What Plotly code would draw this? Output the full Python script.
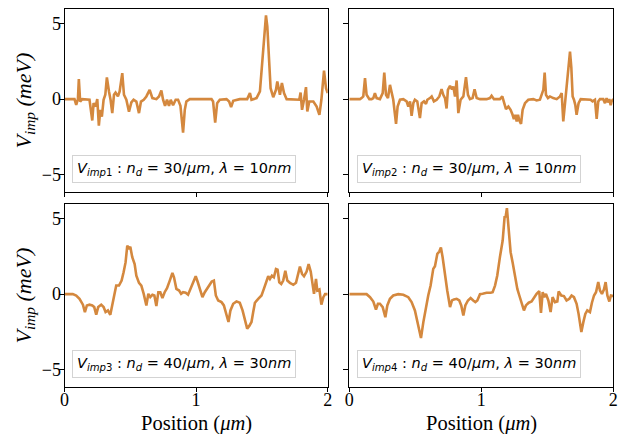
import plotly.graph_objects as go

# ---------------- data ----------------
pos1 = [0, 0.076, 0.089, 0.102, 0.109, 0.119, 0.135, 0.190, 0.211, 0.221, 0.236, 0.249, 0.261, 0.272, 0.284,
        0.297, 0.310, 0.322, 0.338, 0.350, 0.363, 0.376, 0.388, 0.406, 0.419, 0.439, 0.452, 0.470, 0.490,
        0.508, 0.525, 0.546, 0.566, 0.581, 0.602, 0.622, 0.647, 0.668, 0.698, 0.718, 0.736, 0.749, 0.764,
        0.779, 0.794, 0.807, 0.825, 0.845, 0.863, 0.881, 0.901, 0.914, 0.926, 0.952, 1.117, 1.129, 1.145,
        1.160, 1.180, 1.231, 1.251, 1.266, 1.282, 1.332, 1.388, 1.409, 1.421, 1.459, 1.485, 1.503, 1.518,
        1.531, 1.541, 1.551, 1.566, 1.586, 1.607, 1.617, 1.627, 1.637, 1.652, 1.668, 1.688, 1.764, 1.784,
        1.794, 1.805, 1.820, 1.835, 1.845, 1.860, 1.891, 1.916, 1.937, 1.952, 1.972, 1.987, 2.0]
vimp1 = [0, 0, -0.38, 0, 1.33, -0.16, 0, -0.04, -1.42, -0.27, -0.49, 0, -1.76, -0.71, -1.16,
         -0.04, 0.29, 1.44, 0.51, -0.04, -0.93, 0.29, 0.44, 0.18, 0.51, 1.73, 0.29, -0.04, -0.84,
         -0.22, -0.04, -0.16, -0.93, -0.16, -0.04, 0.18, 0.62, 0.07, 0, 0.18, 0.58, -0.04, -0.44,
         -0.04, -0.44, -0.04, -0.4, -0.04, -0.04, -0.44, -2.22, -0.71, -0.16, 0, 0, -0.16, -1.56,
         -0.27, -0.04, 0, -0.16, -0.53, -0.11, 0, 0, 0.4, -0.04, 0.07, 0.51, 2.51, 3.62,
         5.56, 4.84, 3.16, 0.73, 0.13, 0.62, 1.18, 0.62, 0.29, 1.07, 0.4, 0, 0, -0.04,
         0.44, -0.71, -0.04, 0.8, -0.82, -0.16, -0.16, -0.49, -1.04, -0.04, 1.89, 0.73, 0.4]

pos2 = [0, 0.081, 0.093, 0.106, 0.119, 0.131, 0.152, 0.169, 0.182, 0.194, 0.207, 0.232, 0.253, 0.265,
        0.278, 0.293, 0.308, 0.321, 0.333, 0.354, 0.366, 0.384, 0.409, 0.434, 0.447, 0.460, 0.472, 0.485,
        0.497, 0.515, 0.535, 0.548, 0.566, 0.581, 0.591, 0.611, 0.624, 0.641, 0.662, 0.682, 0.699, 0.712,
        0.725, 0.737, 0.747, 0.763, 0.778, 0.788, 0.801, 0.813, 0.826, 0.843, 0.864, 0.884, 0.899, 0.914,
        0.934, 0.949, 0.965, 0.990, 1.040, 1.066, 1.078, 1.096, 1.141, 1.159, 1.172, 1.187, 1.205, 1.222,
        1.237, 1.247, 1.258, 1.268, 1.278, 1.288, 1.301, 1.313, 1.331, 1.356, 1.394, 1.419, 1.444, 1.457,
        1.470, 1.480, 1.490, 1.505, 1.520, 1.545, 1.571, 1.596, 1.609, 1.621, 1.636, 1.652, 1.662, 1.672,
        1.682, 1.692, 1.702, 1.712, 1.722, 1.737, 1.753, 1.785, 1.811, 1.828, 1.843, 1.861, 1.874, 1.886,
        1.899, 1.924, 1.937, 1.949, 1.960, 1.970, 1.980, 1.987, 2.0]
vimp2 = [0, 0, 0.07, 0.18, 1.39, 0.29, 0, 0, 0.07, 0.4, 0.07, 0, 0.4, 1.77,
         0.29, 0.07, 0.95, 0.29, -0.04, -1.64, -0.49, -0.04, 0, -0.15, -0.49, -0.15, -1.11, -0.27,
         -0.04, -0.15, -1.26, -0.27, -0.15, -0.31, -0.04, 0.07, 0.18, -0.15, -0.04, 0.18, 0.66, 0.29,
         0.07, -0.62, 0.62, 0.88, 0.66, 0.84, 0.18, 1.24, -0.93, -0.04, 0.18, 1.46, 0.29, 0,
         0.07, 0.66, 0.07, 0, 0, 0.07, 0.22, 0, 0, 0.18, -0.27, -0.66, -0.49, -0.71,
         -1.04, -1.33, -1.04, -1.48, -1.04, -1.42, -1.64, -0.71, -0.27, -0.04, 0, -0.09, -0.04, 0.29,
         0.62, 1.77, 0.29, 0.07, 0.18, 0.07, 0, 0.18, 0.4, -1.48, -0.04, 1.06, 2.28, 3.16,
         2.12, 0.18, -0.04, -0.38, -1.04, -0.27, 0, 0, -0.04, -0.04, -0.15, -0.04, -1.31, -0.15,
         0, 0, -0.27, 0.07, -0.22, 0, -0.4, -0.15, 0]

pos3 = [0, 0.063, 0.089, 0.114, 0.140, 0.155, 0.170, 0.190, 0.211, 0.226, 0.241, 0.256, 0.279, 0.297,
        0.312, 0.330, 0.348, 0.363, 0.381, 0.393, 0.414, 0.434, 0.449, 0.464, 0.477, 0.490, 0.500, 0.515,
        0.533, 0.546, 0.566, 0.584, 0.602, 0.622, 0.637, 0.652, 0.668, 0.683, 0.698, 0.713, 0.728, 0.744,
        0.761, 0.779, 0.800, 0.820, 0.832, 0.850, 0.871, 0.886, 0.901, 0.921, 0.939, 0.957, 0.977, 0.997,
        1.013, 1.028, 1.048, 1.066, 1.084, 1.104, 1.119, 1.135, 1.150, 1.168, 1.193, 1.211, 1.231, 1.246,
        1.261, 1.282, 1.307, 1.332, 1.353, 1.371, 1.388, 1.404, 1.421, 1.434, 1.447, 1.472, 1.497, 1.515,
        1.530, 1.548, 1.561, 1.576, 1.591, 1.607, 1.619, 1.632, 1.647, 1.662, 1.678, 1.693, 1.713, 1.739,
        1.759, 1.774, 1.789, 1.805, 1.820, 1.840, 1.855, 1.871, 1.886, 1.896, 1.911, 1.921, 1.937, 1.952,
        1.967, 1.980, 2.0]
vimp3 = [0, 0, -0.09, -0.31, -0.7, -1.19, -0.75, -0.7, -0.75, -0.86, -1.37, -0.86, -0.7, -0.86,
         -1.19, -1.08, -1.37, -0.75, 0.13, 0.57, 0.57, 0.9, 1.45, 2.11, 3.22, 3.0, 3.15, 2.45,
         2.0, 1.23, 0.75, 0.57, 0.02, -0.75, 0.02, -0.2, -0.04, -0.09, -0.79, 0.13, 0.13, -0.26,
         0.13, 0.4, 0.9, 1.41, 1.12, 0.35, 0.24, 0.02, 0.13, 0.09, -0.04, 0.35, 0.68, 1.19,
         0.79, 0.35, -0.2, 0.13, 0.35, 0.62, 0.84, 0.9, -0.09, -0.42, -0.53, -0.75, -1.37, -1.85,
         -1.08, -0.64, -0.48, -0.57, -1.08, -1.67, -2.29, -2.11, -1.85, -1.19, -0.57, -0.31, -0.09, 0.35,
         0.75, 1.19, 1.01, 1.23, 1.12, 1.67, 1.63, 0.79, 0.68, 0.9, 1.56, 0.9, 0.75, 0.62,
         0.75, 1.23, 1.83, 1.34, 1.19, 1.5, 2.0, 1.5, 0.68, 0.02, 1.01, 0.24, 0.31, -0.7,
         -0.2, 0, 0]

pos4 = [0, 0.131, 0.157, 0.182, 0.202, 0.217, 0.232, 0.253, 0.273, 0.288, 0.308, 0.333, 0.371, 0.409,
        0.447, 0.472, 0.497, 0.523, 0.543, 0.561, 0.581, 0.598, 0.616, 0.636, 0.649, 0.667, 0.682, 0.694,
        0.707, 0.725, 0.742, 0.763, 0.778, 0.793, 0.813, 0.833, 0.848, 0.864, 0.879, 0.899, 0.919, 0.939,
        0.955, 0.970, 0.990, 1.010, 1.040, 1.071, 1.086, 1.104, 1.121, 1.141, 1.162, 1.177, 1.184, 1.194,
        1.207, 1.222, 1.237, 1.255, 1.273, 1.288, 1.306, 1.323, 1.338, 1.359, 1.381, 1.399, 1.419, 1.439,
        1.452, 1.465, 1.477, 1.490, 1.508, 1.525, 1.540, 1.558, 1.576, 1.586, 1.606, 1.626, 1.646, 1.667,
        1.684, 1.702, 1.722, 1.737, 1.758, 1.773, 1.788, 1.803, 1.823, 1.838, 1.854, 1.869, 1.886, 1.899,
        1.914, 1.929, 1.942, 1.955, 1.970, 1.982, 2.0]
vimp4 = [0, 0, -0.2, -0.49, -1.02, -0.64, -0.64, -0.86, -1.53, -0.75, -0.31, -0.09, 0, -0.04,
         -0.2, -0.53, -1.08, -2.08, -2.92, -1.86, -0.75, -0.09, 0.57, 1.68, 1.86, 2.68, 2.83, 3.1,
         2.45, 1.13, 0.24, -0.86, -0.42, -0.35, -0.31, -0.42, -0.75, -1.42, -0.75, -0.42, -0.26, -0.42,
         -0.53, -0.42, 0, 0.02, 0.09, 0.09, 0.13, 0.57, 1.24, 2.46, 3.56, 5.18, 5.11, 5.71,
         4.34, 2.79, 2.12, 1.13, 0.35, -0.09, -0.53, -1.08, -0.75, -0.57, -0.49, -0.2, 0.02, 0.2,
         -1.24, 0.13, -0.2, 0.02, -0.42, -1.19, -0.2, -0.53, -0.49, 0.18, -0.09, -0.13, -0.42, -0.31,
         -0.09, -0.2, -0.64, -1.31, -2.52, -1.86, -1.31, -1.08, -1.19, -0.57, -0.09, 0.13, 0.8, 0.24,
         0.02, 0.31, 0.8, -0.09, -0.49, -0.09, -0.13]

labels = [
    "<i>V</i><sub><i>imp</i>1</sub> : <i>n</i><sub><i>d</i></sub> = 30/<i>μm</i>, <i>λ</i> = 10<i>nm</i>",
    "<i>V</i><sub><i>imp</i>2</sub> : <i>n</i><sub><i>d</i></sub> = 30/<i>μm</i>, <i>λ</i> = 10<i>nm</i>",
    "<i>V</i><sub><i>imp</i>3</sub> : <i>n</i><sub><i>d</i></sub> = 40/<i>μm</i>, <i>λ</i> = 30<i>nm</i>",
    "<i>V</i><sub><i>imp</i>4</sub> : <i>n</i><sub><i>d</i></sub> = 40/<i>μm</i>, <i>λ</i> = 30<i>nm</i>",
]
x_ticks = [0, 1, 2]
y_ticks = [-5, 0, 5]

# ---------------- figure ----------------
W, H = 623, 434
LINE = "#d4883e"
SERIF = "Liberation Serif, Times New Roman, serif"

xdoms = [[64.5 / W, 327.7 / W], [349.3 / W, 613.3 / W]]
ydoms = [[1 - 191.7 / H, 1 - 9.3 / H], [1 - 386.7 / H, 1 - 204.3 / H]]

fig = go.Figure()
series = [(pos1, vimp1), (pos2, vimp2), (pos3, vimp3), (pos4, vimp4)]
for i, (px, vy) in enumerate(series):
    n = "" if i == 0 else str(i + 1)
    fig.add_trace(go.Scatter(x=px, y=vy, mode="lines", xaxis="x" + n, yaxis="y" + n,
                             line=dict(color=LINE, width=2.6), showlegend=False))

layout = dict(width=W, height=H, margin=dict(l=0, r=0, t=0, b=0),
              paper_bgcolor="white", plot_bgcolor="white", showlegend=False)

for i in range(4):
    row, col = divmod(i, 2)
    n = "" if i == 0 else str(i + 1)
    layout["xaxis" + n] = dict(domain=xdoms[col], anchor="y" + n, range=[0, 2],
                               tickvals=x_ticks, showticklabels=(row == 1),
                               ticks="outside", ticklen=4, tickwidth=1, tickcolor="black",
                               ticklabelstandoff=-7,
                               showline=True, linecolor="black", linewidth=1, mirror=True,
                               showgrid=False, zeroline=False, automargin=False,
                               tickfont=dict(family=SERIF, size=18, color="black"))
    layout["yaxis" + n] = dict(domain=ydoms[row], anchor="x" + n, range=[-6.15, 5.97],
                               tickvals=y_ticks, showticklabels=(col == 0),
                               ticks="outside", ticklen=5, tickwidth=1, tickcolor="black",
                               ticklabelstandoff=-6,
                               showline=True, linecolor="black", linewidth=1, mirror=True,
                               showgrid=False, zeroline=False, automargin=False,
                               tickfont=dict(family=SERIF, size=18, color="black"))
fig.update_layout(**layout)

ann = []
for i in range(4):
    n = "" if i == 0 else str(i + 1)
    ann.append(dict(xref="x" + n + " domain", yref="y" + n + " domain", x=0.03, y=0.045,
                    xanchor="left", yanchor="bottom", showarrow=False, text=labels[i],
                    font=dict(family="DejaVu Sans", size=14.5, color="black"),
                    bgcolor="rgba(255,255,255,0.8)", bordercolor="#d3d3d3", borderwidth=1, borderpad=4))
# axis titles
for row in range(2):
    yc = (ydoms[row][0] + ydoms[row][1]) / 2
    ann.append(dict(xref="paper", yref="paper", x=24 / W, y=yc, xanchor="center", yanchor="middle",
                    textangle=-90, showarrow=False,
                    text="<i>V</i><sub><i>imp</i></sub> <i>(meV)</i>",
                    font=dict(family=SERIF, size=22, color="black")))
for col in range(2):
    xc = (xdoms[col][0] + xdoms[col][1]) / 2
    ann.append(dict(xref="paper", yref="paper", x=xc, y=1 - 423 / H, xanchor="center", yanchor="middle",
                    showarrow=False, text="Position (<i>μm</i>)",
                    font=dict(family=SERIF, size=20.5, color="black")))
fig.update_layout(annotations=ann)

fig.write_html("out.html", config={"displayModeBar": False},
               post_script="document.body.style.margin='0px';document.body.style.overflow='hidden';")
